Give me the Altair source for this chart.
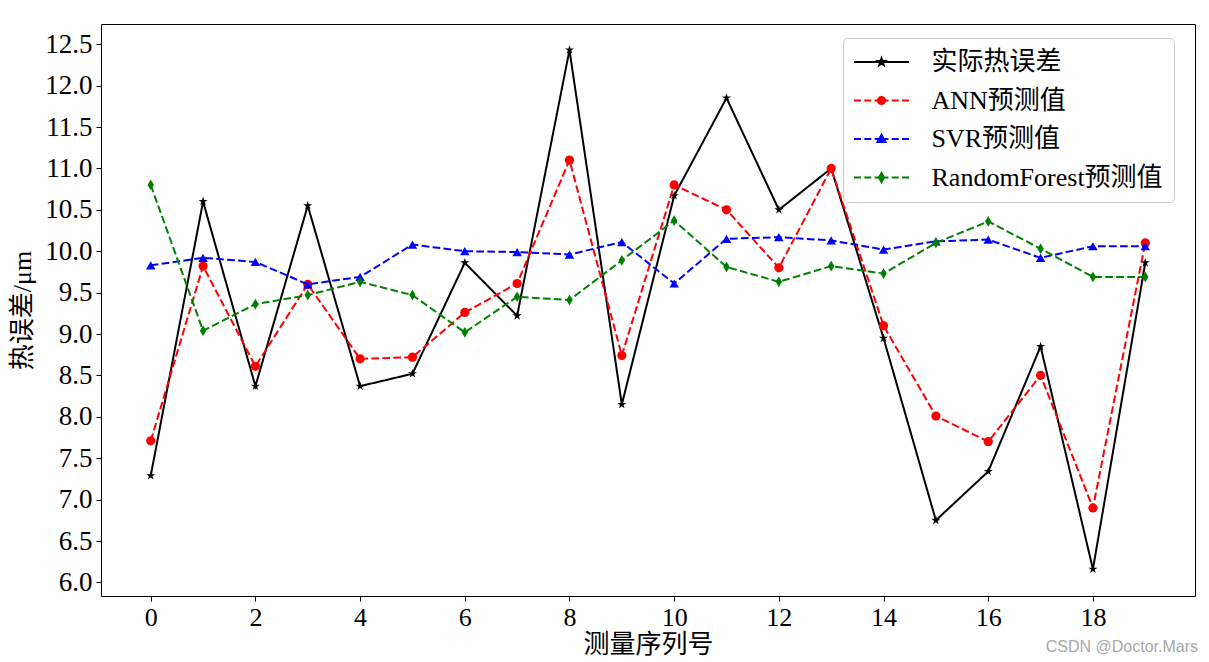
import altair as alt
import pandas as pd

# ---------------- data ----------------
idx = list(range(20))
actual = [7.29, 10.60, 8.37, 10.55, 8.37, 8.52, 9.86, 9.22, 12.43, 8.15,
          10.67, 11.85, 10.50, 11.00, 8.95, 6.75, 7.34, 8.85, 6.16, 9.86]
ann = [7.71, 9.82, 8.61, 9.60, 8.70, 8.72, 9.26, 9.61, 11.10, 8.74,
       10.80, 10.50, 9.80, 11.00, 9.10, 8.01, 7.70, 8.50, 6.90, 10.10]
svr = [9.83, 9.92, 9.87, 9.60, 9.69, 10.08, 10.00, 9.99, 9.96, 10.11,
       9.61, 10.15, 10.17, 10.13, 10.02, 10.12, 10.14, 9.92, 10.06, 10.06]
rf = [10.80, 9.04, 9.36, 9.47, 9.63, 9.47, 9.02, 9.45, 9.41, 9.89,
      10.37, 9.81, 9.63, 9.82, 9.73, 10.10, 10.36, 10.03, 9.69, 9.69]

series_names = ["实际热误差", "ANN预测值", "SVR预测值", "RandomForest预测值"]
series_values = [actual, ann, svr, rf]
series_colors = ["#000000", "#ff0000", "#0000ff", "#008000"]

x_ticks = [0, 2, 4, 6, 8, 10, 12, 14, 16, 18]
y_ticks = [6.0, 6.5, 7.0, 7.5, 8.0, 8.5, 9.0, 9.5, 10.0, 10.5, 11.0, 11.5, 12.0, 12.5]
x_title = "测量序列号"
y_title = "热误差/μm"
watermark = "CSDN @Doctor.Mars"

rows = []
for name, vals in zip(series_names, series_values):
    for i, v in zip(idx, vals):
        rows.append({"idx": i, "value": v, "series": name})
df = pd.DataFrame(rows)

# ---------------- styles ----------------
SERIF = "'Liberation Serif', 'Noto Sans CJK SC'"
STAR = ("M0,-1L0.225,-0.309L0.951,-0.309L0.363,0.118L0.588,0.809L0,0.382"
        "L-0.588,0.809L-0.363,0.118L-0.951,-0.309L-0.225,-0.309Z")
THIN_D = "M0,-1L0.6,0L0,1L-0.6,0Z"
marker_shapes = [STAR, "circle", "triangle-up", THIN_D]
marker_sizes = [90, 85, 90, 115]
dashes = [[1, 0], [7.7, 3.3], [7.7, 3.3], [7.7, 3.3]]

solid_line = "M-2.75,0H2.75"
dash_line = "M-2.75,0H-2.05M-1.72,0H-1.02M-0.69,0H0.69M1.02,0H1.72M2.05,0H2.75"
leg_star = ("M0,-0.36L0.081,-0.111L0.342,-0.111L0.131,0.042L0.212,0.291L0,0.138"
            "L-0.212,0.291L-0.131,0.042L-0.342,-0.111L-0.081,-0.111Z")
leg_circle = "M0.36,0A0.36,0.36,0,1,1,-0.36,0A0.36,0.36,0,1,1,0.36,0Z"
leg_tri = "M0,-0.42L0.4,0.3L-0.4,0.3Z"
leg_diam = "M0,-0.45L0.26,0L0,0.45L-0.26,0Z"
legend_paths = [solid_line + leg_star, dash_line + leg_circle,
                dash_line + leg_tri, dash_line + leg_diam]

x_enc = alt.X(
    "idx:Q",
    scale=alt.Scale(domain=[-0.95, 19.95], nice=False, zero=False),
    axis=alt.Axis(values=x_ticks, format="d", title=x_title, grid=False,
                  domain=False, labelFont=SERIF, labelFontSize=26,
                  labelColor="black", tickColor="black", tickSize=5,
                  tickWidth=1, labelPadding=3, labelOverlap=False,
                  labelFlush=False, titleFont=SERIF, titleFontSize=26,
                  titleFontWeight="normal", titleColor="black",
                  titleY=48, titleBaseline="middle"),
)
y_enc = alt.Y(
    "value:Q",
    scale=alt.Scale(domain=[5.836, 12.744], nice=False, zero=False),
    axis=alt.Axis(values=y_ticks, format=".1f", title=y_title, grid=False,
                  domain=False, labelFont=SERIF, labelFontSize=27,
                  labelColor="black", tickColor="black", tickSize=5,
                  tickWidth=1, labelPadding=4, labelOverlap=False,
                  labelFlush=False, titleFont=SERIF, titleFontSize=26,
                  titleFontWeight="normal", titleColor="black",
                  titleX=-79, titleY=286, titleAngle=270,
                  titleAlign="center", titleBaseline="middle"),
)

base = alt.Chart(df)
layers = []
for name, col, dash, shp, sz in zip(series_names, series_colors, dashes,
                                    marker_shapes, marker_sizes):
    sub = base.transform_filter(alt.datum.series == name)
    layers.append(sub.mark_line(color=col, strokeWidth=2, strokeDash=dash)
                  .encode(x=x_enc, y=y_enc))
    layers.append(sub.mark_point(shape=shp, filled=True, color=col, size=sz,
                                 opacity=1)
                  .encode(x=x_enc, y=y_enc))

leg = alt.Legend(title=None)
legend_layer = base.mark_point(filled=True, opacity=0, size=10).encode(
    x=x_enc, y=y_enc,
    fill=alt.Fill("series:N", scale=alt.Scale(domain=series_names, range=series_colors), legend=leg),
    stroke=alt.Stroke("series:N", scale=alt.Scale(domain=series_names, range=series_colors), legend=leg),
    shape=alt.Shape("series:N", scale=alt.Scale(domain=series_names, range=legend_paths), legend=leg),
)
layers.append(legend_layer)

wm = alt.Chart(pd.DataFrame({"t": [watermark]})).mark_text(
    align="right", baseline="middle", font="'Liberation Sans'", fontSize=16,
    color="#a8a8a8"
).encode(text="t:N", x=alt.value(1097), y=alt.value(623))
layers.append(wm)

chart = alt.layer(*layers).properties(
    width=1094, height=572,
    padding={"left": 101, "top": 24, "right": 14, "bottom": 66},
    autosize=alt.AutoSizeParams(type="none"),
    background="white",
).configure_view(
    stroke="black", strokeWidth=1
).configure_legend(
    orient="none", legendX=742, legendY=14,
    padding=11, rowPadding=12.5, symbolOffset=14.5, labelOffset=37,
    symbolSize=400, symbolStrokeWidth=2, symbolOpacity=1,
    symbolFillColor="black", symbolStrokeColor="black",
    labelFont=SERIF, labelFontSize=26, labelColor="black", labelLimit=400,
    cornerRadius=4, strokeColor="#cccccc", fillColor="rgba(255,255,255,0.8)",
    strokeWidth=1,
)

chart.save("out.html", embed_options={"renderer": "svg", "actions": False})
